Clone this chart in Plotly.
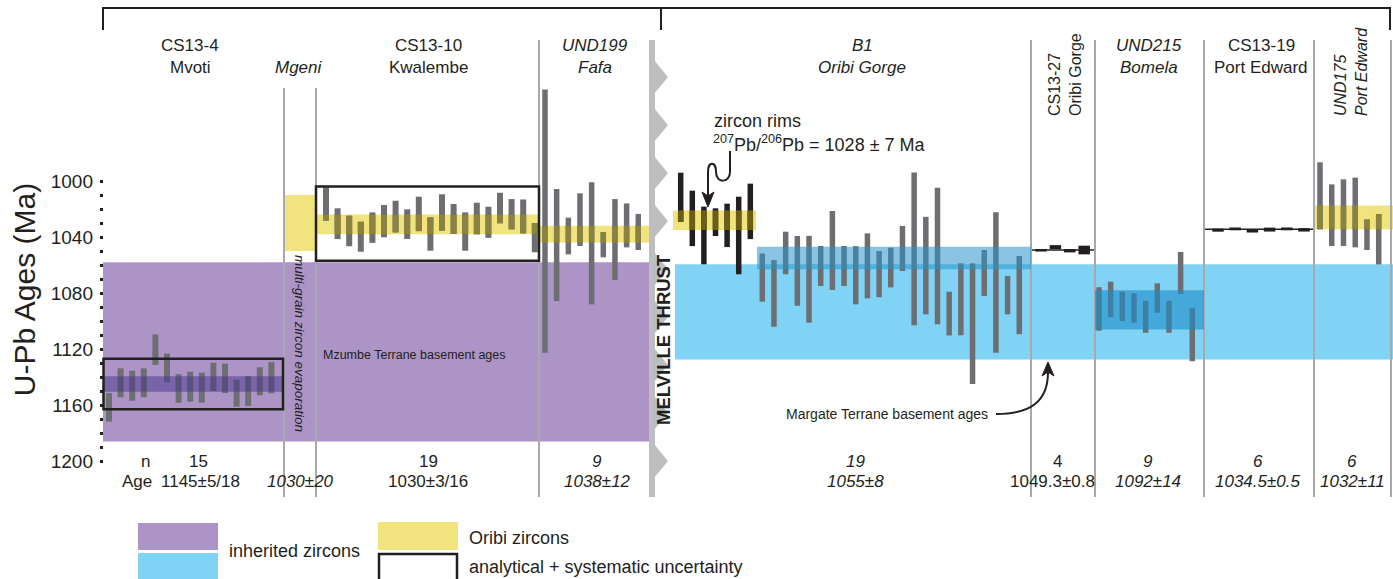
import plotly.graph_objects as go

# ---------------- U-Pb ages (Ma) with 2-sigma half-widths ----------------
# CS13-4 Mvoti
cs13_4_age = [1161.7, 1144.1, 1146.2, 1144.1, 1120.5, 1133.5, 1148.2, 1146.9,
              1147.6, 1139.9, 1141.0, 1151.6, 1150.0, 1143.1, 1140.5]
cs13_4_err = [10.2, 10.3, 10.7, 10.3, 10.9, 10.3, 10.2, 10.7,
              10.7, 10.1, 10.5, 9.6, 10.7, 10.0, 11.1]

# CS13-10 Kwalembe
cs13_10_age = [1016.4, 1030.5, 1035.7, 1039.8, 1033.3, 1028.7, 1025.4, 1030.8, 1023.5, 1037.9,
               1022.5, 1027.1, 1036.1, 1026.8, 1029.5, 1019.3, 1023.7, 1025.3, 1040.5]
cs13_10_err = [11.9, 11.0, 10.9, 10.7, 10.9, 11.5, 11.3, 10.6, 12.3, 11.9,
               13.0, 10.7, 13.7, 11.3, 11.1, 10.9, 10.8, 12.1, 10.4]

# UND199 Fafa
und199_age = [1028.6, 1045.7, 1039.3, 1027.6, 1044.5, 1045.5, 1041.8, 1031.7, 1036.4]
und199_err = [94.0, 40.0, 13.1, 18.8, 43.6, 9.0, 28.9, 15.7, 12.9]

# B1 Oribi Gorge, zircon rims
b1_rim_age = [1011.6, 1026.7, 1038.9, 1029.4, 1031.7, 1038.9, 1021.7]
b1_rim_err = [17.5, 19.8, 20.6, 9.9, 15.5, 27.7, 19.8]

# B1 Oribi Gorge
b1_age = [1069.0, 1080.3, 1051.4, 1064.2, 1070.2, 1060.7, 1049.6, 1060.7, 1067.3, 1060.6,
          1066.5, 1061.8, 1048.2, 1048.5, 1060.4, 1053.6, 1094.7, 1084.5, 1101.9, 1065.7,
          1072.5, 1081.5, 1081.5]
b1_err = [17.2, 23.8, 15.2, 24.9, 31.0, 14.3, 28.2, 14.3, 20.8, 23.2,
          16.5, 14.2, 16.1, 54.6, 34.8, 48.8, 15.6, 25.7, 43.1, 16.4,
          50.1, 13.7, 27.9]

# CS13-27 Oribi Gorge
cs13_27_age = [1049.5, 1047.2, 1049.8, 1049.3]
cs13_27_err = [0.9, 1.4, 1.2, 3.1]

# UND215 Bomela
und215_age = [1091.4, 1084.6, 1089.5, 1090.7, 1097.0, 1083.6, 1097.0, 1065.7, 1109.8]
und215_err = [15.5, 12.7, 10.5, 10.5, 11.4, 10.5, 11.4, 15.0, 18.9]

# CS13-19 Port Edward
cs13_19_age = [1035.1, 1034.2, 1035.6, 1034.7, 1034.2, 1034.9]
cs13_19_err = [1.1, 1.0, 1.2, 1.4, 1.0, 1.2]

# UND175 Port Edward
und175_age = [1010.6, 1024.4, 1022.6, 1022.5, 1038.4, 1041.6]
und175_err = [23.9, 22.0, 23.8, 24.9, 10.9, 18.0]

# Reference ranges and sample means (Ma)
mzumbe_basement = (1058.0, 1186.0)
margate_basement = (1059.5, 1127.5)
mgeni_mean, mgeni_unc = 1030, 20
cs13_4_mean, cs13_4_unc = 1145, 5.5
cs13_4_total = (1127.0, 1163.0)
cs13_10_mean, cs13_10_unc = 1031, 7
cs13_10_total = (1004.0, 1057.0)
und199_mean, und199_unc = 1038, 6
rim_mean, rim_unc = 1028, 7
b1_mean, b1_unc = 1055, 8
cs13_27_mean = 1049.3
und215_mean, und215_unc = 1092, 14
cs13_19_mean = 1034.5
und175_band = (1017.5, 1034.5)

y_ticks = [1000, 1040, 1080, 1120, 1160, 1200]
y_minor_ticks = [1010, 1020, 1030, 1050, 1060, 1070, 1090, 1100, 1110,
                 1130, 1140, 1150, 1170, 1180, 1190]

# column footers: (text, centre x, italic)
footer_n = [("15", 198, False), ("19", 428, False), ("9", 597, True), ("19", 855, True),
            ("4", 1057, False), ("9", 1148, True), ("6", 1258, True), ("6", 1352, True)]
footer_age = [("1145±5/18", 200, False), ("1030±20", 300, True), ("1030±3/16", 428, False),
              ("1038±12", 597, True), ("1055±8", 855, True), ("1049.3±0.8", 1052, False),
              ("1092±14", 1148, True), ("1034.5±0.5", 1258, True), ("1032±11", 1352, True)]

# ---------------- geometry and style ----------------
W, H = 1393, 579
LEFT = 100
Y_1000 = 181.0      # pixel row of 1000 Ma
PX_PER_MA = 1.4


def age_at(py):
    """Convert a pixel row into the age axis."""
    return 1000 + (py - Y_1000) / PX_PER_MA


FONT = "Liberation Sans, Arial, sans-serif"
INK = "#231f20"
GRAY = "#6d6e71"
PURPLE = "#ad94c7"
CYAN = "#80d3f5"
YELLOW = "#f1e47f"
SEP = "#a7a9ac"
THRUST = "#bcbec0"
OLIVE_GRAY = "#8a823f"
OLIVE_BLACK = "#6b5f17"
CLEAR = "rgba(0,0,0,0)"

fig = go.Figure()
shapes = []
annos = []


def rect(x0, x1, a0, a1, color, layer="below", line=None):
    shapes.append(dict(type="rect", xref="x", yref="y", x0=x0, x1=x1, y0=a0, y1=a1,
                       fillcolor=color, layer=layer,
                       line=line if line else dict(width=0)))


def vline(x, py0, py1, color=SEP, width=2, layer="below"):
    shapes.append(dict(type="line", xref="x", yref="y", x0=x, x1=x,
                       y0=age_at(py0), y1=age_at(py1), layer=layer,
                       line=dict(color=color, width=width)))


def path(points, color=INK, width=2, fill=None, close=False, layer="above"):
    d = "M " + " ".join(
        (p if isinstance(p, str) else f"{p[0]},{age_at(p[1])}") for p in points)
    if close:
        d += " Z"
    shapes.append(dict(type="path", xref="x", yref="y", path=d, layer=layer,
                       fillcolor=fill if fill else CLEAR,
                       line=dict(color=color, width=width)))


def text(x, py, s, size=17, italic=False, bold=False, angle=0, xanchor="center",
         yanchor="middle", color=INK, align="center", family=FONT):
    annos.append(dict(x=x, y=age_at(py), xref="x", yref="y", text=s, showarrow=False,
                      textangle=angle, xanchor=xanchor, yanchor=yanchor, align=align,
                      font=dict(family=family, size=size, color=color,
                                style="italic" if italic else "normal",
                                weight="bold" if bold else "normal")))


def add_sample(ages, errs, x0, step, width, color, band=None, band_color=None):
    xs = [x0 + i * step for i in range(len(ages))]
    fig.add_trace(go.Bar(x=xs, y=[2 * e for e in errs],
                         base=[a - e for a, e in zip(ages, errs)], width=width,
                         marker=dict(color=color, line=dict(width=0)),
                         hoverinfo="skip", showlegend=False))
    if band is None:
        return
    lo, hi = band
    sx, sb, sl = [], [], []
    for x, a, e in zip(xs, ages, errs):
        s, t = max(a - e, lo), min(a + e, hi)
        if t > s:
            sx.append(x)
            sb.append(s)
            sl.append(t - s)
    fig.add_trace(go.Bar(x=sx, y=sl, base=sb, width=width,
                         marker=dict(color=band_color, line=dict(width=0)),
                         hoverinfo="skip", showlegend=False))


# ---------------- background ranges ----------------
rect(103, 650, *mzumbe_basement, PURPLE)
rect(675, W, *margate_basement, CYAN)
rect(284, 316, mgeni_mean - mgeni_unc, mgeni_mean + mgeni_unc, YELLOW)
cs13_10_band = (cs13_10_mean - cs13_10_unc, cs13_10_mean + cs13_10_unc)
und199_band = (und199_mean - und199_unc, und199_mean + und199_unc)
rim_band = (rim_mean - rim_unc, rim_mean + rim_unc)
rect(316, 539, *cs13_10_band, YELLOW)
rect(539, 650, *und199_band, YELLOW)
rect(673, 756, *rim_band, YELLOW)
rect(1314, W, *und175_band, YELLOW)

# column separators
for xs in [539, 1031, 1095, 1204, 1314, 1391]:
    vline(xs, 40, 497)
for xs in [284, 316]:
    vline(xs, 88, 497)

# Melville thrust: toothed band
rect(649, 655, age_at(40), age_at(497), THRUST)
for k in range(9):
    yc = 77 + 48 * k
    path([(654, yc - 17), "L", (668, yc), "L", (654, yc + 17)], color=THRUST, width=0,
         fill=THRUST, close=True, layer="below")

# sample mean lines
shapes.append(dict(type="line", xref="x", yref="y", x0=1032, x1=1094, y0=cs13_27_mean,
                   y1=cs13_27_mean, line=dict(color=INK, width=1.5), layer="below"))
shapes.append(dict(type="line", xref="x", yref="y", x0=1205, x1=1313, y0=cs13_19_mean,
                   y1=cs13_19_mean, line=dict(color=INK, width=1.5), layer="below"))

# ---------------- single-grain ages ----------------
add_sample(cs13_4_age, cs13_4_err, 109, 11.6, 6, GRAY)
add_sample(cs13_10_age, cs13_10_err, 326, 11.6, 6, GRAY, cs13_10_band, OLIVE_GRAY)
add_sample(und199_age, und199_err, 545, 11.66, 5.5, GRAY, und199_band, OLIVE_GRAY)
add_sample(b1_rim_age, b1_rim_err, 680.7, 11.6, 5.5, INK, rim_band, OLIVE_BLACK)
add_sample(b1_age, b1_err, 762.3, 11.68, 5.5, GRAY)
add_sample(cs13_27_age, cs13_27_err, 1041, 14.4, 11.5, INK)
add_sample(und215_age, und215_err, 1099, 11.66, 5.5, GRAY)
add_sample(cs13_19_age, cs13_19_err, 1218, 17.2, 11.5, INK)
add_sample(und175_age, und175_err, 1320, 11.74, 5.5, GRAY, und175_band, OLIVE_GRAY)

# ---------------- weighted means drawn over the grains ----------------
rect(104, 283, cs13_4_mean - cs13_4_unc, cs13_4_mean + cs13_4_unc,
     "rgba(70,50,140,0.5)", layer="above")
rect(757, 1031, b1_mean - b1_unc, b1_mean + b1_unc, "rgba(40,150,200,0.55)", layer="above")
rect(1095, 1204, und215_mean - und215_unc, und215_mean + und215_unc,
     "rgba(30,140,200,0.6)", layer="above")
rect(103.5, 283, *cs13_4_total, CLEAR, layer="above", line=dict(color=INK, width=2.5))
rect(316, 539, *cs13_10_total, CLEAR, layer="above", line=dict(color=INK, width=2.5))

# top bracket
path([(103, 30), "L", (103, 8), "L", (1390, 8), "L", (1390, 30)], width=2)
path([(661, 8), "L", (661, 30)], width=2)

# zircon-rim call-out arrow
path([(730, 151), "L", (730, 172), "C", (730, 183), (716, 184), (716, 172), "C",
      (716, 161), (708, 161), (708, 172), "L", (708, 200)], width=2)
path([(702, 192), "L", (708, 207), "L", (714, 192), "L", (708, 196)], width=1, fill=INK,
     close=True)

# Margate basement arrow
path([(996, 414), "C", (1030, 414), (1048, 402), (1048, 372)], width=2)
path([(1042, 376), "L", (1048, 362), "L", (1054, 376), "L", (1048, 372)], width=1, fill=INK,
     close=True)

# ---------------- legend swatches ----------------
rect(138, 218, age_at(523), age_at(550), PURPLE)
rect(138, 218, age_at(553), age_at(582), CYAN)
rect(378, 458, age_at(522), age_at(550), YELLOW)
rect(379, 457, age_at(554), age_at(582), CLEAR, layer="above",
     line=dict(color=INK, width=2.5))

# ---------------- text ----------------
text(190, 45, "CS13-4")
text(190, 67, "Mvoti")
text(299, 67, "Mgeni", italic=True)
text(428, 45, "CS13-10")
text(428, 67, "Kwalembe")
text(595, 45, "UND199", italic=True)
text(595, 67, "Fafa", italic=True)
text(862, 45, "B1", italic=True)
text(862, 67, "Oribi Gorge", italic=True)
text(1065, 75, "CS13-27<br>Oribi Gorge", size=16, angle=-90, align="left")
text(1149, 45, "UND215", italic=True)
text(1149, 67, "Bomela", italic=True)
text(1261, 45, "CS13-19")
text(1261, 67, "Port Edward")
text(1351, 72, "UND175<br>Port Edward", size=16, italic=True, angle=-90, align="left")

text(300, 343, "multi-grain zircon evaporation", size=13.5, italic=True, angle=90)
text(414, 355, "Mzumbe Terrane basement ages", size=12.5)
text(990, 414, "Margate Terrane basement ages", size=14, xanchor="right")
text(663, 340, "MELVILLE THRUST", size=18.5, bold=True, angle=-90,
     family="Liberation Sans Narrow, Liberation Sans, Arial, sans-serif")
text(712, 121, "zircon rims", size=18, xanchor="left")
text(711, 143, "<sup>207</sup>Pb/<sup>206</sup>Pb = 1028 ± 7 Ma", size=18, xanchor="left")

text(145, 461, "n")
text(137, 481, "Age")
for s, x, it in footer_n:
    text(x, 461, s, italic=it)
for s, x, it in footer_age:
    text(x, 481, s, italic=it)

text(227, 551, "inherited zircons", size=18, xanchor="left")
text(467, 538, "Oribi zircons", size=18, xanchor="left")
text(467, 567, "analytical + systematic uncertainty", size=18, xanchor="left")

fig.update_layout(
    width=W, height=H, margin=dict(l=LEFT, r=0, t=0, b=0),
    paper_bgcolor="white", plot_bgcolor="white", barmode="overlay",
    shapes=shapes, annotations=annos, showlegend=False,
    xaxis=dict(range=[LEFT, W], visible=False, fixedrange=True),
    yaxis=dict(range=[age_at(H), age_at(0)], tickvals=y_ticks, ticks="inside",
               ticklen=3, tickwidth=3, tickcolor=INK, showgrid=False, zeroline=False,
               showline=False, ticklabelstandoff=6,
               tickfont=dict(family=FONT, size=19, color=INK),
               minor=dict(tickmode="array", tickvals=y_minor_ticks, ticks="inside",
                          ticklen=2.5, tickwidth=2.5, tickcolor=INK, showgrid=False),
               title=dict(text="U-Pb Ages (Ma)", standoff=6,
                          font=dict(family=FONT, size=30, color=INK))),
)

fig.write_html("out.html")
